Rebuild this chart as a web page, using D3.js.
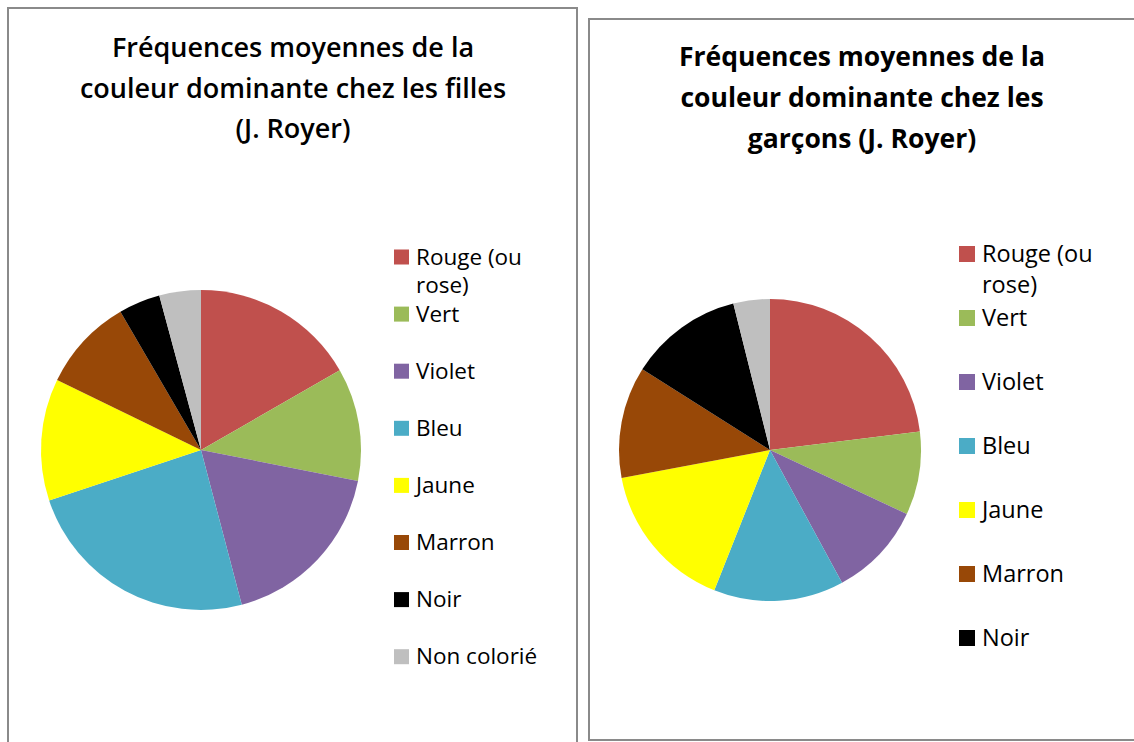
<!DOCTYPE html>
<html>
<head>
<meta charset="utf-8">
<script src="https://cdn.jsdelivr.net/npm/d3@7"></script>
<style>
  html, body { margin: 0; padding: 0; background: #fff; }
  svg { display: block; }
  text { font-family: "Open Sans", Lato, sans-serif; fill: #000; }
</style>
</head>
<body>
<svg id="chart" width="1134" height="742"></svg>
<script>
// catégories et couleurs (même ordre pour les deux graphiques)
const categories = ["Rouge (ou rose)", "Vert", "Violet", "Bleu", "Jaune", "Marron", "Noir", "Non colorié"];
const legendLines = [["Rouge (ou", "rose)"], ["Vert"], ["Violet"], ["Bleu"], ["Jaune"], ["Marron"], ["Noir"], ["Non colorié"]];
const sliceColors = ["#C0504D", "#9BBB59", "#8064A2", "#4BACC6", "#FFFF00", "#984807", "#000000", "#BFBFBF"];

const filles = [16.7, 11.4, 17.8, 24.0, 12.3, 9.4, 4.2, 4.2];
const garcons = [23.0, 8.9, 10.1, 13.9, 16.0, 11.9, 12.1, 3.9];

const titleFilles = ["Fréquences moyennes de la", "couleur dominante chez les filles", "(J. Royer)"];
const titleGarcons = ["Fréquences moyennes de la", "couleur dominante chez les", "garçons (J. Royer)"];

const svg = d3.select("#chart");

const color = d3.scaleOrdinal().domain(categories).range(sliceColors);

const panels = 
[
    {
        values: filles, title: titleFilles, weight: 600, titleSize: 27,
        frame: { x: 8, y: 8, w: 569, h: 760 },
        titleX: 293, titleY: 57, titleStep: 40.5,
        cx: 201, cy: 450, r: 160,
        legend: { x: 394, y: 257, step: 57.1, box: 15, size: 22.5, lineH: 28, count: 8 }
    },
    {
        values: garcons, title: titleGarcons, weight: "bold", titleSize: 26.5,
        frame: { x: 589, y: 19, w: 560, h: 721 },
        titleX: 862, titleY: 66, titleStep: 41,
        cx: 770, cy: 450, r: 151,
        legend: { x: 959, y: 254, step: 64, box: 16, size: 23.5, lineH: 31, count: 7 }
    }
];

panels.forEach(p => 
{
    const g = svg.append("g");

    g.append("rect")
        .attr("x", p.frame.x)
        .attr("y", p.frame.y)
        .attr("width", p.frame.w)
        .attr("height", p.frame.h)
        .attr("fill", "#fff")
        .attr("stroke", "#8a8a8a")
        .attr("stroke-width", 2);

    // titre
    g.append("text")
        .attr("text-anchor", "middle")
        .attr("font-size", p.titleSize)
        .attr("font-weight", p.weight)
        .selectAll("tspan")
        .data(p.title)
        .join("tspan")
        .attr("x", p.titleX)
        .attr("y", (d, i) => p.titleY + i * p.titleStep)
        .text(d => d);

    // camembert
    const pie = d3.pie().sort(null).value(d => d.v);
    const arc = d3.arc().innerRadius(0).outerRadius(p.r);
    const rows = categories.map((c, i) => ({ c: c, v: p.values[i] }));

    g.append("g")
        .attr("transform", `translate(${p.cx},${p.cy})`)
        .selectAll("path")
        .data(pie(rows))
        .join("path")
        .attr("d", arc)
        .attr("fill", d => color(d.data.c));

    // légende
    const L = p.legend;
    const items = g.append("g")
        .selectAll("g")
        .data(categories.slice(0, L.count))
        .join("g")
        .attr("transform", (d, i) => `translate(${L.x},${L.y + i * L.step})`);

    items.append("rect")
        .attr("x", 0)
        .attr("y", -L.box / 2)
        .attr("width", L.box)
        .attr("height", L.box)
        .attr("fill", d => color(d));

    items.append("text")
        .attr("font-size", L.size)
        .selectAll("tspan")
        .data((d, i) => legendLines[i])
        .join("tspan")
        .attr("x", L.box + 7)
        .attr("y", (d, j) => L.box / 2 + j * L.lineH)
        .text(d => d);
});
</script>
</body>
</html>
